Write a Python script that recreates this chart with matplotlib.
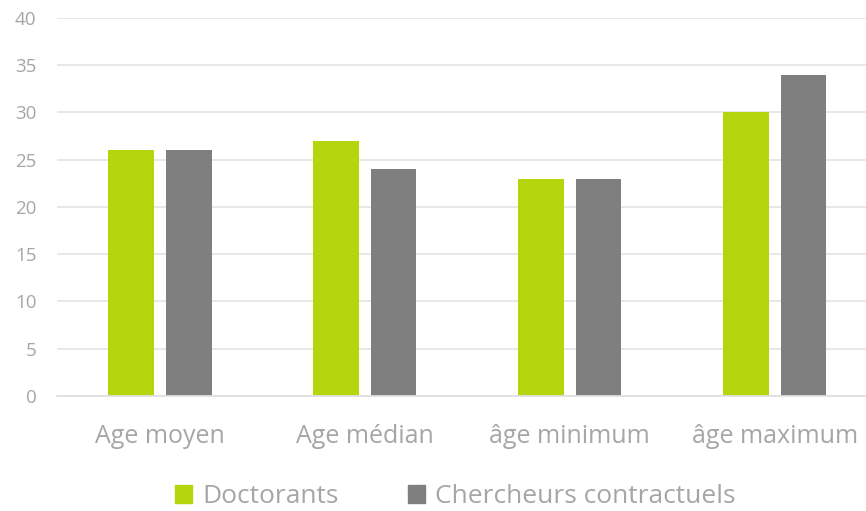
import numpy as np
import matplotlib.pyplot as plt
from matplotlib.patches import Patch

plt.rcParams['font.family'] = ['Open Sans', 'DejaVu Sans']

categories = ["Age moyen", "Age médian", "âge minimum", "âge maximum"]
doctorants = [26, 27, 23, 30]
chercheurs = [26, 24, 23, 34]
series_names = ["Doctorants", "Chercheurs contractuels"]

GREEN = "#B5D60C"
GREY = "#7F7F7F"
TEXT = "#A6A6A6"

fig = plt.figure(figsize=(8.66, 5.11), dpi=100)
ax = fig.add_axes([0.066, 0.225, 0.934, 0.74])

x = np.arange(len(categories))
w = 0.224
off = 0.141
ax.bar(x - off, doctorants, w, color=GREEN, zorder=2)
ax.bar(x + off, chercheurs, w, color=GREY, zorder=2)

ax.set_xlim(-0.5, 3.446)
ax.set_ylim(0, 40)
ax.set_yticks(range(0, 41, 5))
ax.yaxis.grid(True, color="#E6E6E6", linewidth=1.3, zorder=0)
ax.set_axisbelow(True)
for s in ["top", "right", "left"]:
    ax.spines[s].set_visible(False)
ax.spines["bottom"].set_color("#E0E0E0")
ax.spines["bottom"].set_linewidth(1.3)

ax.set_xticks(x)
ax.set_xticklabels(categories)
ax.tick_params(axis="x", length=0, pad=20, labelsize=18, labelcolor=TEXT)
ax.tick_params(axis="y", length=0, pad=15, labelsize=13.5, labelcolor=TEXT)

handles = [Patch(color=GREEN), Patch(color=GREY)]
fig.legend(handles, series_names, loc="center", bbox_to_anchor=(0.526, 0.028),
           ncol=2, frameon=False, fontsize=19, labelcolor=TEXT,
           handlelength=0.65, handleheight=0.65, handletextpad=0.4, columnspacing=2.6)

fig.savefig("out.png", dpi=100)
